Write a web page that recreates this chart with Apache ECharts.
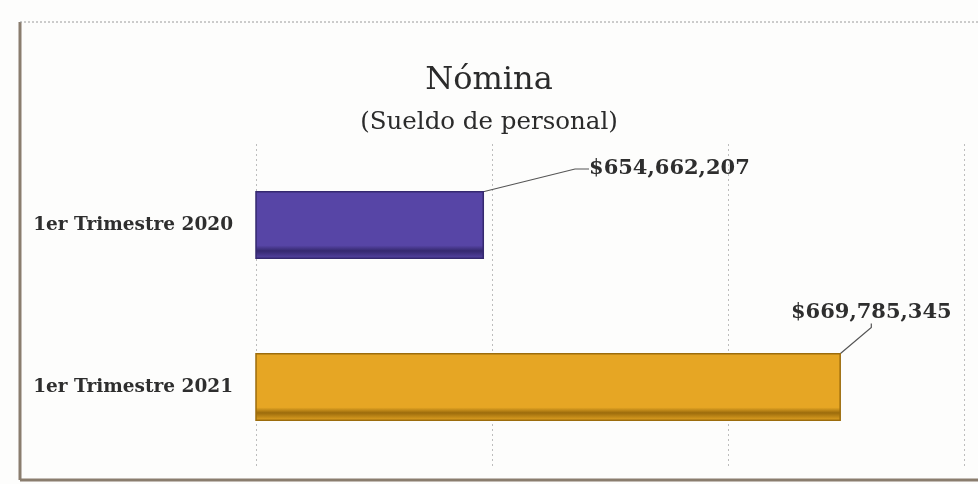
<!DOCTYPE html>
<html><head><meta charset="utf-8">
<script src="https://cdn.jsdelivr.net/npm/echarts@6/dist/echarts.min.js"></script>
<style>html,body{margin:0;padding:0;background:#fdfdfc}#c{width:978px;height:484px}</style>
</head><body><div id="c"></div>
<script>
const categories = ['1er Trimestre 2020', '1er Trimestre 2021'];
const values = [654662207, 669785345];
const barColors = ['#5745a6', '#e6a624'];
const barEdges = ['#35296f', '#9c6c0c'];
const titleText = 'Nómina';
const subtitleText = '(Sueldo de personal)';
const axisMin = 645000000, axisMax = 675000000, axisStep = 10000000;

const fmt = v => '$' + v.toLocaleString('en-US');
const chart = echarts.init(document.getElementById('c'));
const serif = '"DejaVu Serif", "Liberation Serif", serif';
chart.setOption({
  backgroundColor: '#fdfdfc',
  title: [
    {text: titleText, left: 'center', top: 60, textStyle: {fontFamily: serif, fontSize: 32, fontWeight: 'normal', color: '#2b2b2b'}},
    {text: subtitleText, left: 'center', top: 105, textStyle: {fontFamily: serif, fontSize: 24.5, fontWeight: 'normal', color: '#2b2b2b'}}
  ],
  grid: {left: 256, right: 14, top: 144, bottom: 16},
  xAxis: {type: 'value', min: axisMin, max: axisMax, interval: axisStep,
    axisLabel: {show: false}, axisLine: {show: false}, axisTick: {show: false},
    splitLine: {show: true, lineStyle: {color: '#bdbdbd', type: [2, 3], width: 1}}},
  yAxis: {type: 'category', data: categories, inverse: true,
    axisLine: {show: false}, axisTick: {show: false},
    axisLabel: {margin: 23, fontFamily: serif, fontSize: 18.5, fontWeight: 'bold', color: '#2e2e2e'}},
  series: [{
    type: 'bar', barWidth: 68,
    data: values.map((v, i) => ({value: v,
      labelLine: {show: true, length2: i === 0 ? 14 : 4, lineStyle: {color: '#555', width: 1.2}},
      itemStyle: {
      color: {type: 'linear', x: 0, y: 0, x2: 0, y2: 1, colorStops: [
        {offset: 0, color: barColors[i]}, {offset: 0.8, color: barColors[i]}, {offset: 0.88, color: barEdges[i]}, {offset: 1, color: barColors[i]}]},
      borderColor: barEdges[i], borderWidth: 1.5}})),
    label: {show: true, position: 'right', formatter: p => fmt(p.value),
      fontFamily: serif, fontSize: 21, fontWeight: 'bold', color: '#2e2e2e'},
    labelLayout: p => ({dx: p.dataIndex === 0 ? 100 : -55, dy: p.dataIndex === 0 ? -56 : -74}),
    labelLine: {show: true, length2: 14, lineStyle: {color: '#555', width: 1.2}}
  }],
  graphic: [
    {type: 'line', shape: {x1: 20, y1: 22, x2: 20, y2: 480}, style: {stroke: '#8a7d6e', lineWidth: 3}},
    {type: 'line', shape: {x1: 20, y1: 480, x2: 978, y2: 480}, style: {stroke: '#8a7d6e', lineWidth: 3}},
    {type: 'line', shape: {x1: 20, y1: 22, x2: 978, y2: 22}, style: {stroke: '#9a9a9a', lineWidth: 1, lineDash: [2, 2]}}
  ]
});
</script></body></html>
